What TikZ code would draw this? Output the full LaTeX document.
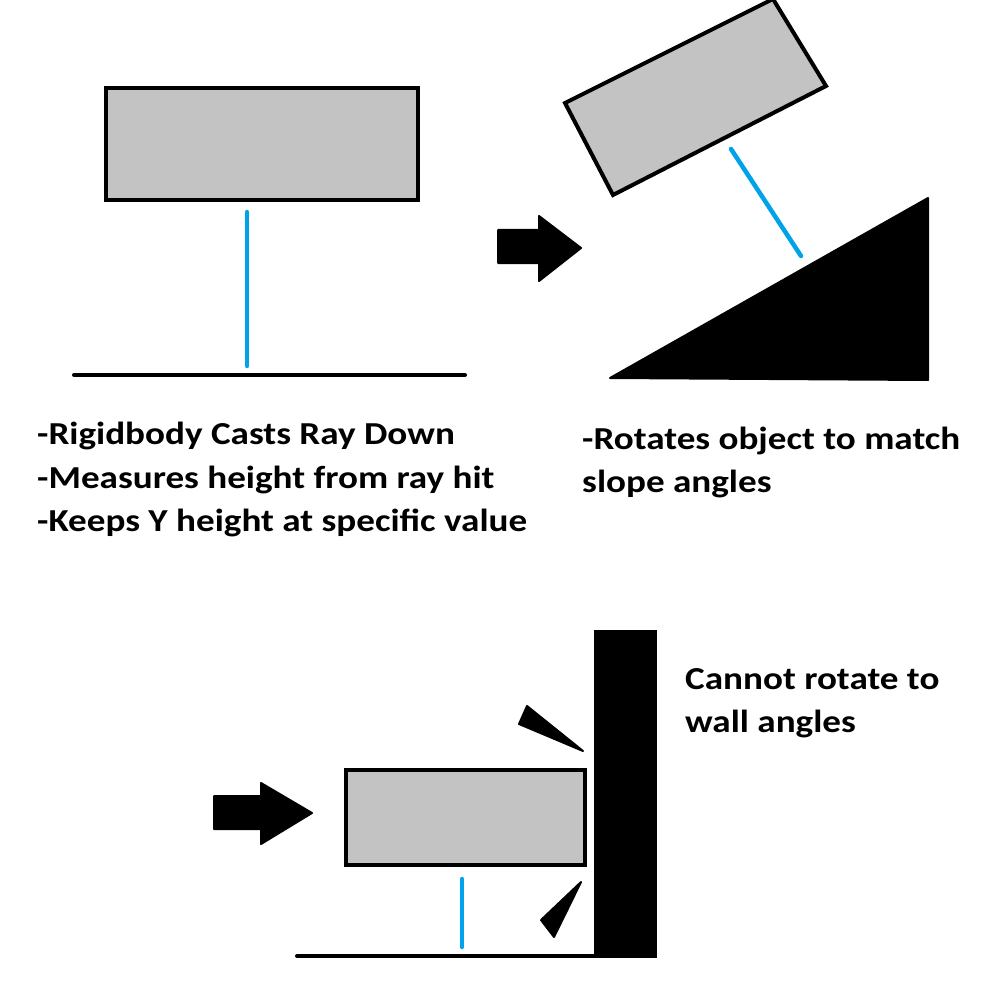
\documentclass[tikz,border=0pt]{standalone}
\usepackage{fontspec}
\setmainfont{Carlito}[BoldFeatures={FakeStretch=1.16}]
\definecolor{boxgray}{HTML}{C3C3C3}
\definecolor{rayblue}{HTML}{00A2E8}
\tikzset{
  box/.style={draw=black,line width=4pt,fill=boxgray,line join=miter},
  ray/.style={draw=rayblue,line width=4.5pt,line cap=round},
  ground/.style={draw=black,line width=4pt,line cap=round},
  solid black/.style={fill=black,draw=black,line width=2pt,line join=round},
  label/.style={anchor=base west,inner sep=0pt,font=\fontsize{32}{44}\selectfont\bfseries},
}
\begin{document}
\begin{tikzpicture}[x=1pt,y=-1pt]
\useasboundingbox (0,0) rectangle (1000,1000);
% --- top left: box, ray, ground
\path[box] (106,88) rectangle (418,200);
\coordinate (r1a) at (247,212);
\coordinate (r1b) at (247,366);
\draw[ray] (r1a) -- (r1b);
\coordinate (g1a) at (74,375);
\coordinate (g1b) at (465,375);
\draw[ground] (g1a) -- (g1b);
% --- arrow 1
\path[solid black] (498,230) -- (539,230) -- (539,216) -- (581,248) -- (539,281) -- (539,263) -- (498,263) -- cycle;
% --- top right: rotated box, ray, slope
\path[box] (565,103) -- (773,-1) -- (826,86) -- (613,195) -- cycle;
\coordinate (r2a) at (731,149);
\coordinate (r2b) at (801,256);
\draw[ray] (r2a) -- (r2b);
\path[solid black] (610,378) -- (928,198) -- (928,380) -- cycle;
% --- texts
\node[label] (t1) at (37,444) {-Rigidbody Casts Ray Down};
\node[label] (t2) at (37,488) {-Measures height from ray hit};
\node[label] (t3) at (37,531) {-Keeps Y height at specific value};
\node[label] (t4) at (582,449) {-Rotates object to match};
\node[label] (t5) at (582,492) {slope angles};
\node[label] (t6) at (685,689) {Cannot rotate to};
\node[label] (t7) at (685,732) {wall angles};
% --- bottom: wall, ground, box, ray, arrow, wedges
\fill[black] (594,630) rectangle (657,958);
\coordinate (g2a) at (297,956);
\coordinate (g2b) at (600,956);
\draw[ground] (g2a) -- (g2b);
\path[box] (346,770) rectangle (585,865);
\coordinate (r3a) at (462,879);
\coordinate (r3b) at (462,947);
\draw[ray] (r3a) -- (r3b);
\path[solid black] (214,796) -- (261,796) -- (261,783) -- (312,813) -- (261,844) -- (261,829) -- (214,829) -- cycle;
\path[solid black] (527,706) -- (583,751) -- (519,724) -- cycle;
\path[solid black] (581,882) -- (554,937) -- (541,920) -- cycle;
\end{tikzpicture}
\end{document}
